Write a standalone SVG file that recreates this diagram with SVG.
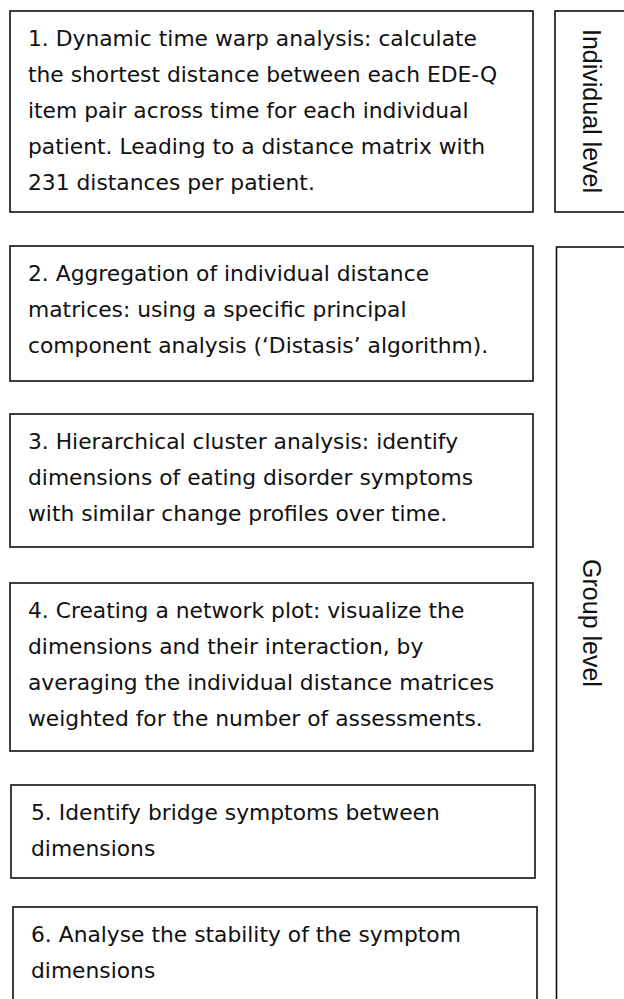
<svg xmlns="http://www.w3.org/2000/svg" width="624" height="999" viewBox="0 0 624 999">
<style>
.box{fill:#fff;stroke:#111;stroke-width:1.6}
.t{font-family:"DejaVu Sans",Verdana,sans-serif;font-size:21.8px;fill:#111}
.v{font-family:"Liberation Sans",Arial,sans-serif;font-size:25px;fill:#111;text-anchor:middle}
</style>
<rect width="624" height="999" fill="#fff"/>
<g id="connectors"></g>
<g id="individual-level">
<rect class="box" x="555" y="11" width="80" height="201"/>
<text class="v" transform="translate(583,111) rotate(90)">Individual level</text>
</g>
<g id="group-level">
<rect class="box" x="556.5" y="247" width="80" height="760"/>
<text class="v" transform="translate(583,623) rotate(90)">Group level</text>
</g>
<g id="step1">
<rect class="box" x="10" y="11" width="523" height="201"/>
<text class="t" x="28" y="46">1. Dynamic time warp analysis: calculate</text>
<text class="t" x="28" y="82">the shortest distance between each EDE-Q</text>
<text class="t" x="28" y="118">item pair across time for each individual</text>
<text class="t" x="28" y="154">patient. Leading to a distance matrix with</text>
<text class="t" x="28" y="190">231 distances per patient.</text>
</g>
<g id="step2">
<rect class="box" x="10" y="246" width="523" height="135"/>
<text class="t" x="28" y="281">2. Aggregation of individual distance</text>
<text class="t" x="28" y="317">matrices: using a specific principal</text>
<text class="t" x="28" y="353">component analysis (‘Distasis’ algorithm).</text>
</g>
<g id="step3">
<rect class="box" x="10" y="414" width="523" height="133"/>
<text class="t" x="28" y="449">3. Hierarchical cluster analysis: identify</text>
<text class="t" x="28" y="485">dimensions of eating disorder symptoms</text>
<text class="t" x="28" y="521">with similar change profiles over time.</text>
</g>
<g id="step4">
<rect class="box" x="10" y="583" width="523" height="168"/>
<text class="t" x="28" y="618">4. Creating a network plot: visualize the</text>
<text class="t" x="28" y="654">dimensions and their interaction, by</text>
<text class="t" x="28" y="690">averaging the individual distance matrices</text>
<text class="t" x="28" y="726">weighted for the number of assessments.</text>
</g>
<g id="step5">
<rect class="box" x="11" y="785" width="524" height="93"/>
<text class="t" x="31" y="820">5. Identify bridge symptoms between</text>
<text class="t" x="31" y="856">dimensions</text>
</g>
<g id="step6">
<rect class="box" x="13" y="907" width="524" height="100"/>
<text class="t" x="31" y="942">6. Analyse the stability of the symptom</text>
<text class="t" x="31" y="978">dimensions</text>
</g>
</svg>
